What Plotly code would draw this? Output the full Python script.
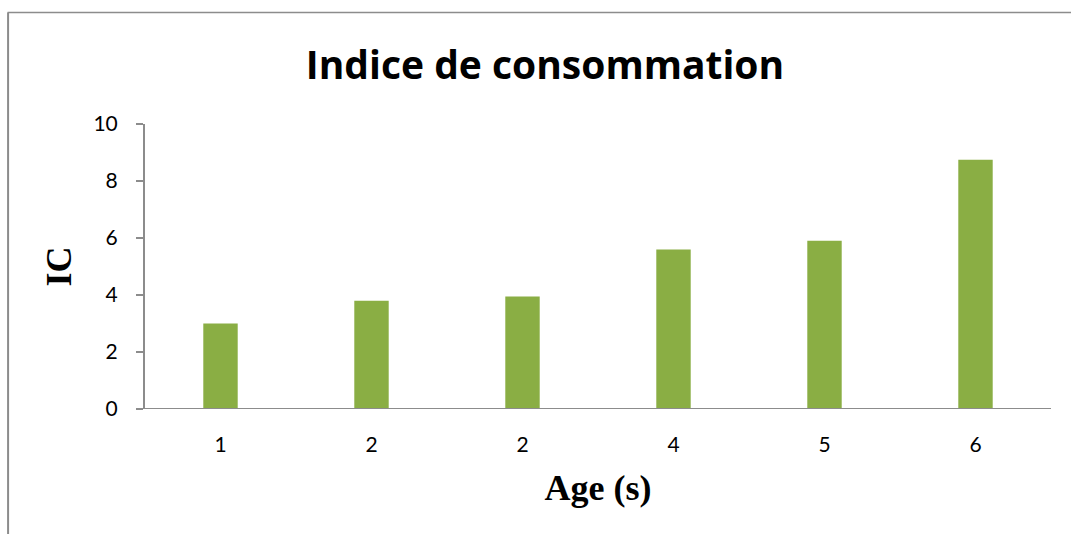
import plotly.graph_objects as go

categories = ["1", "2", "2", "4", "5", "6"]
values = [3.0, 3.8, 3.95, 5.6, 5.9, 8.75]
y_ticks = [0, 2, 4, 6, 8, 10]

positions = list(range(len(categories)))

W, H = 1071, 534
L, R, T, B = 144.5, 20, 124, 125.3
pw = W - L - R
ph = H - T - B

def px_x(px):
    return (px - L) / pw

def px_y(py):
    return (H - B - py) / ph

fig = go.Figure()
fig.add_trace(go.Bar(
    x=positions,
    y=values,
    width=0.228,
    marker=dict(color="#8AAE44", line=dict(width=0)),
    hoverinfo="y",
))

fig.update_layout(
    width=W, height=H,
    margin=dict(l=L, r=R, t=T, b=B, pad=0),
    paper_bgcolor="white",
    plot_bgcolor="white",
    showlegend=False,
    title=dict(
        text="<b>Indice de consommation</b>",
        x=545 / W, xref="container", xanchor="center",
        y=1 - 65 / H, yref="container", yanchor="middle",
        font=dict(family="Open Sans", size=39, color="black"),
    ),
    xaxis=dict(
        range=[-0.5, len(categories) - 0.5],
        tickvals=positions,
        ticktext=categories,
        showgrid=False,
        zeroline=False,
        showline=False,
        ticks="",
        tickfont=dict(family="Lato", size=21, color="black"),
        ticklabelstandoff=21,
        title=dict(text="<b>Age (s)</b>",
                   font=dict(family="Liberation Serif", size=36, color="black"),
                   standoff=19),
    ),
    yaxis=dict(
        range=[0, 10],
        tickvals=y_ticks,
        showgrid=False,
        zeroline=False,
        showline=True,
        linecolor="#8C8C8C",
        linewidth=2,
        ticks="outside",
        ticklen=7,
        tickcolor="#8C8C8C",
        tickwidth=1.5,
        tickfont=dict(family="Lato", size=21, color="black"),
        ticklabelstandoff=14,
        title=dict(text="<b>IC</b>",
                   font=dict(family="Liberation Serif", size=36, color="black"),
                   standoff=11),
    ),
    shapes=[
        # x axis baseline
        dict(type="line", xref="paper", yref="y", x0=px_x(137), x1=1, y0=0, y1=0,
             line=dict(color="#8C8C8C", width=2)),
        # outer chart border (top and left)
        dict(type="line", xref="paper", yref="paper", x0=px_x(7), x1=px_x(1075),
             y0=px_y(12.5), y1=px_y(12.5), line=dict(color="#8C8C8C", width=1.5)),
        dict(type="line", xref="paper", yref="paper", x0=px_x(7.5), x1=px_x(7.5),
             y0=px_y(12.5), y1=px_y(540), line=dict(color="#8C8C8C", width=2)),
    ],
)

fig.write_html("out.html", config={"displayModeBar": False},
               post_script="document.body.style.margin='0';")
